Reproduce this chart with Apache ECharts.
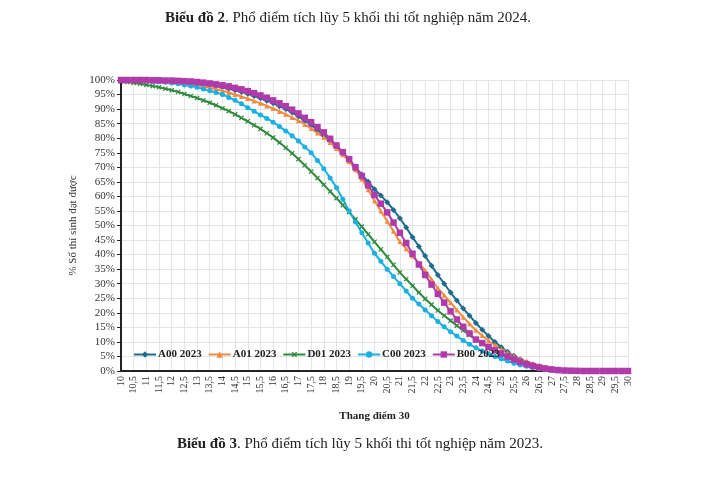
<!DOCTYPE html>
<html>
<head>
<meta charset="utf-8">
<title>Phổ điểm tích lũy 5 khối thi tốt nghiệp</title>
<script src="https://cdn.jsdelivr.net/npm/echarts@6/dist/echarts.min.js"></script>
<style>
    html, body { margin: 0; padding: 0; background: #fff; }
    #chart { width: 720px; height: 479px; }
</style>
</head>
<body>
<div id="chart"></div>
<script>
// thang diem 30, buoc 0,25
var scores = ['10','10.25','10.5','10.75','11','11.25','11.5','11.75','12','12.25','12.5','12.75',
    '13','13.25','13.5','13.75','14','14.25','14.5','14.75','15','15.25','15.5','15.75',
    '16','16.25','16.5','16.75','17','17.25','17.5','17.75','18','18.25','18.5','18.75',
    '19','19.25','19.5','19.75','20','20.25','20.5','20.75','21','21.25','21.5','21.75',
    '22','22.25','22.5','22.75','23','23.25','23.5','23.75','24','24.25','24.5','24.75',
    '25','25.25','25.5','25.75','26','26.25','26.5','26.75','27','27.25','27.5','27.75',
    '28','28.25','28.5','28.75','29','29.25','29.5','29.75','30'];

var seriesNames = ['A00 2023', 'A01 2023', 'D01 2023', 'C00 2023', 'B00 2023'];

var a00 = [100,100,99.9,99.9,99.9,99.8,99.8,99.7,99.6,99.5,99.3,99.1,
    98.9,98.6,98.3,97.9,97.5,97,96.5,95.9,95.3,94.5,93.7,92.9,
    92,91,90,88.8,87.5,86,84.5,82.8,81,79,77,74.8,
    72.5,70,67.5,65,62.5,60.3,58,55.3,52.5,49.3,46,42.8,
    39.5,36.2,33,30,27,24.2,21.5,19,16.5,14.2,12,10,
    8.2,6.6,5.2,4,3,2.2,1.6,1.1,0.7,0.5,0.3,0.2,
    0.1,0.05,0,0,0,0,0,0,0];

var a01 = [100,100,99.9,99.9,99.8,99.7,99.6,99.5,99.3,99.1,98.8,98.5,
    98.2,97.8,97.3,96.8,96.3,95.7,95,94.3,93.6,92.8,92,91.1,
    90.2,89.2,88.2,87.1,86,84.7,83.3,81.8,80.3,78.5,76.5,74.3,
    72,69.2,66,62.3,58.5,55,51.5,48,44.5,42,39.5,37,
    34.5,31.5,28.5,26,23.5,21,18.5,16.2,14,12.2,10.5,9,
    7.6,6.4,5.2,4.2,3.3,2.6,2,1.5,1,0.7,0.4,0.2,
    0.1,0.05,0,0,0,0,0,0,0];

var d01 = [99.5,99.3,99,98.7,98.3,97.9,97.5,97,96.5,95.9,95.2,94.5,
    93.8,93,92.2,91.3,90.3,89.3,88.2,87,85.8,84.5,83.2,81.7,
    80.2,78.5,76.7,74.8,72.8,70.7,68.5,66.3,64,61.7,59.4,57,
    54.6,52.1,49.6,47,44.4,41.8,39.2,36.5,33.9,31.6,29.3,27,
    24.8,22.8,20.8,19,17.3,15.6,14,12.4,10.8,9.4,8,6.8,
    5.6,4.6,3.7,3,2.3,1.8,1.3,0.9,0.6,0.4,0.2,0.1,
    0.05,0,0,0,0,0,0,0,0];

var c00 = [100,99.9,99.9,99.8,99.7,99.5,99.4,99.2,99,98.7,98.3,97.9,
    97.5,96.9,96.3,95.7,95,94,93,91.8,90.5,89.3,88,86.8,
    85.5,84,82.5,80.8,79,77,75,72.3,69.5,66.3,63,59,
    55,51.2,47.5,44,40.5,37.7,35,32.5,30,27.5,25,23,
    21,19,17,15.2,13.5,12,10.5,9.2,8,6.9,5.8,5,
    4.2,3.4,2.7,2.1,1.6,1.2,0.8,0.5,0.3,0.2,0.1,0.05,
    0,0,0,0,0,0,0,0,0];

var b00 = [100,100,100,100,100,99.9,99.9,99.8,99.8,99.7,99.6,99.5,
    99.3,99.1,98.8,98.5,98.2,97.8,97.3,96.8,96.2,95.5,94.7,93.9,
    93,92,91,89.8,88.5,87,85.5,83.8,82,79.8,77.5,75.2,
    72.8,70,67,63.8,60.5,57.5,54.5,51,47.5,44,40.3,36.6,
    33,29.7,26.5,23.5,20.5,17.7,15.2,12.9,10.8,9.6,8.3,7.1,
    6,5,4,3.1,2.3,1.7,1.2,0.8,0.5,0.3,0.15,0.1,
    0.05,0,0,0,0,0,0,0,0];

var seriesData = [a00, a01, d01, c00, b00];
var colors = ['#1f6b8e', '#f08b3e', '#2f8a3c', '#1ab0e2', '#b13aab'];
var symbols = ['diamond', 'triangle', 'path://M4,0H6V4H10V6H6V10H4V6H0V4H4Z', 'circle', 'rect'];
var symbolSizes = [6, 5, 6, 5, 6.5];

var serif = '"Liberation Serif", "DejaVu Serif", serif';

var chart = echarts.init(document.getElementById('chart'));

var series = seriesNames.map(function(name, i) {
    return {
        name: name,
        type: 'line',
        data: seriesData[i],
        symbol: symbols[i],
        symbolSize: symbolSizes[i],
        symbolRotate: i === 2 ? 45 : 0,
        showAllSymbol: true,
        smooth: true,
        lineStyle: { color: colors[i], width: 2 },
        itemStyle: { color: colors[i] },
        z: i === 4 ? 3 : 2
    };
});

var option = {
    backgroundColor: '#fff',
    animation: false,
    color: colors,
    title: [{
        text: '{b|Biểu đồ 2}. Phổ điểm tích lũy 5 khối thi tốt nghiệp năm 2024.',
        left: 343,
        top: 6,
        textAlign: 'center',
        textStyle: {
            fontFamily: serif,
            fontSize: 15,
            fontWeight: 'normal',
            color: '#222',
            rich: { b: { fontFamily: serif, fontSize: 15, fontWeight: 'bold', color: '#222' } }
        }
    }, {
        text: '{b|Biểu đồ 3}. Phổ điểm tích lũy 5 khối thi tốt nghiệp năm 2023.',
        left: 355,
        top: 432,
        textAlign: 'center',
        textStyle: {
            fontFamily: serif,
            fontSize: 15,
            fontWeight: 'normal',
            color: '#222',
            rich: { b: { fontFamily: serif, fontSize: 15, fontWeight: 'bold', color: '#222' } }
        }
    }],
    legend: {
        data: seriesNames,
        left: 128,
        top: 344,
        itemWidth: 22,
        itemHeight: 8,
        itemGap: 6,
        textStyle: {
            fontFamily: serif,
            fontSize: 11,
            fontWeight: 'bold',
            color: '#222',
            padding: [0, 0, 0, -3]
        }
    },
    grid: {
        left: 121,
        right: 92,
        top: 80,
        bottom: 108
    },
    xAxis: {
        type: 'category',
        data: scores,
        boundaryGap: false,
        name: 'Thang điểm 30',
        nameLocation: 'middle',
        nameGap: 40,
        nameTextStyle: {
            fontFamily: serif,
            fontSize: 11,
            fontWeight: 'bold',
            color: '#222'
        },
        axisLine: { lineStyle: { color: '#222', width: 2 } },
        axisTick: { show: false },
        axisLabel: {
            interval: 1,
            rotate: 90,
            fontFamily: serif,
            fontSize: 10,
            color: '#333',
            margin: 5,
            formatter: function(v) { return v.replace('.', ','); }
        },
        splitLine: {
            show: true,
            interval: 1,
            lineStyle: { color: '#e1e6ea', width: 1 }
        }
    },
    yAxis: {
        type: 'value',
        min: 0,
        max: 100,
        interval: 5,
        name: '% Số thí sinh đạt được',
        nameLocation: 'middle',
        nameGap: 42,
        nameMoveOverlap: false,
        nameTextStyle: {
            fontFamily: serif,
            fontSize: 11,
            color: '#333'
        },
        axisLine: { show: true, lineStyle: { color: '#222', width: 2 } },
        axisTick: { show: true, length: 4, lineStyle: { color: '#222' } },
        axisLabel: {
            fontFamily: serif,
            fontSize: 11,
            color: '#333',
            margin: 6,
            formatter: '{value}%'
        },
        splitLine: { lineStyle: { color: '#e1e6ea', width: 1 } }
    },
    series: series
};

chart.setOption(option);
</script>
</body>
</html>
